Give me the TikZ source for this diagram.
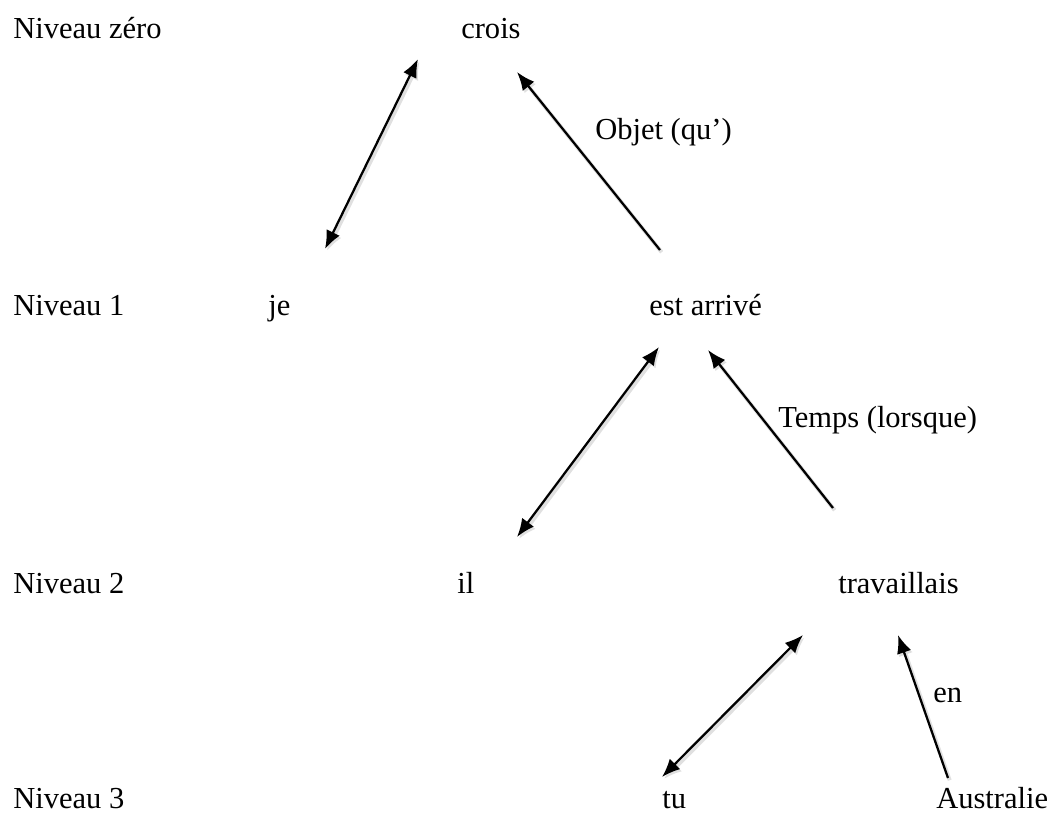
\documentclass[tikz,border=0pt]{standalone}
\usepackage{fontspec}
\setmainfont{Liberation Serif}
\usetikzlibrary{arrows.meta, positioning}

\tikzset{
  word/.style={anchor=base west, inner sep=0pt, font=\fontsize{21.7}{26}\selectfont},
  shade/.style={preaction={draw=black!12, line width=2.8pt,
    transform canvas={shift={(1.2pt,-1.6pt)}}}},
  link/.style={shade, line width=1.6pt, -{Latex[length=13pt,width=10.5pt]}},
  twoway/.style={shade, line width=1.6pt, {Latex[length=13pt,width=10.5pt]}-{Latex[length=13pt,width=10.5pt]}}
}

\begin{document}
\begin{tikzpicture}[x=0.025cm, y=-0.025cm]
	\useasboundingbox (0,0) rectangle (1052,813);

	% level labels on the left
	\node[word] (lvl0) at (13,39) {Niveau zéro};
	\node[word] (lvl1) at (13,316) {Niveau 1};
	\node[word] (lvl2) at (13,593) {Niveau 2};
	\node[word] (lvl3) at (13,808) {Niveau 3};

	% words of the sentence
	\node[word] (crois) at (461,39) {crois};
	\node[word] (je) at (268,316) {je};
	\node[word] (arrive) at (649,316) {est arrivé};
	\node[word] (il) at (457,593) {il};
	\node[word] (travaillais) at (838,593) {travaillais};
	\node[word] (tu) at (662,808) {tu};
	\node[word] (australie) at (936,808) {Australie};

	% relation names
	\node[word] (objet) at (595,140) {Objet (qu’)};
	\node[word] (temps) at (778,427) {Temps (lorsque)};
	\node[word] (en) at (933,702) {en};

	% arrow ends
	\coordinate (crois-l) at (418,59);
	\coordinate (crois-r) at (517,72);
	\coordinate (je-t) at (325,249);
	\coordinate (arrive-t) at (660,250);
	\coordinate (arrive-l) at (659,347);
	\coordinate (arrive-r) at (708,350);
	\coordinate (il-t) at (517,537);
	\coordinate (trav-t) at (833,508);
	\coordinate (trav-l) at (803,635);
	\coordinate (trav-r) at (898,635);
	\coordinate (tu-t) at (662,777);
	\coordinate (aus-t) at (948,778);

	% arrows
	\draw[twoway] (je-t) -- (crois-l);
	\draw[link] (arrive-t) -- (crois-r);
	\draw[twoway] (il-t) -- (arrive-l);
	\draw[link] (trav-t) -- (arrive-r);
	\draw[twoway] (tu-t) -- (trav-l);
	\draw[link] (aus-t) -- (trav-r);
\end{tikzpicture}
\end{document}
